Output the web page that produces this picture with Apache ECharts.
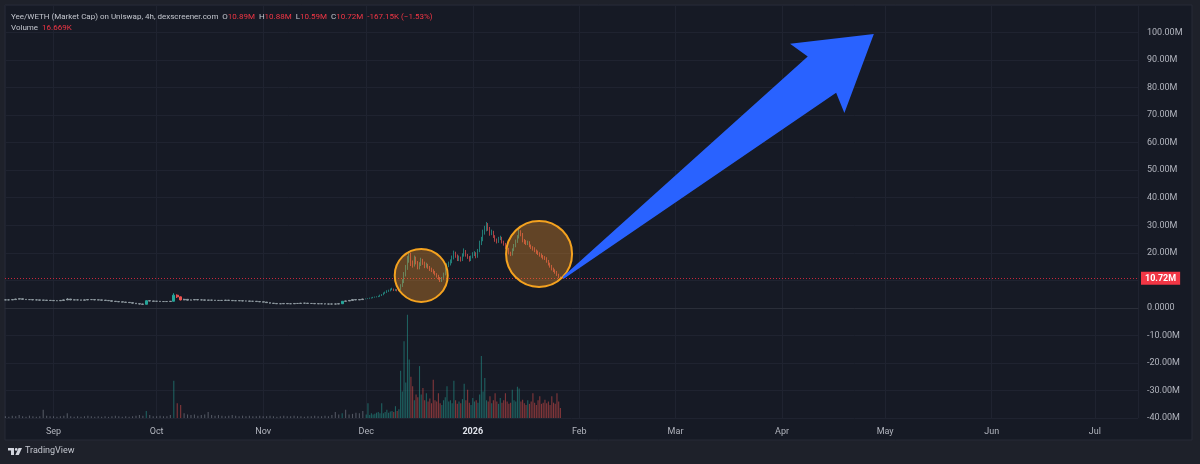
<!DOCTYPE html>
<html><head><meta charset="utf-8">
<script src="https://cdn.jsdelivr.net/npm/echarts@6/dist/echarts.min.js"></script>
<style>html,body{margin:0;padding:0;background:#1e212a;}#c{width:1200px;height:464px;}</style>
</head><body><div id="c"></div>
<script>
// ---------------- DATA ----------------
// Market cap in millions (M). Candle rows: [open, close, low, high]
const flatStart = '2025-08-18T00:00:00';   // daily candles
const flatOHLC = [
[2.9,2.9,2.8,3.0],[2.9,2.9,2.8,3.0],[2.9,3.0,2.9,3.1],[3.0,3.2,3.0,3.3],[3.2,3.3,3.1,3.4],[3.3,3.1,3.0,3.3],[3.1,3.0,2.9,3.1],
[3.0,3.0,2.9,3.1],[3.0,2.9,2.8,3.0],[2.9,2.9,2.8,3.0],[2.9,2.8,2.7,2.9],[2.8,2.8,2.7,2.9],[2.8,2.7,2.6,2.8],[2.7,2.7,2.6,2.8],
[2.7,2.6,2.5,2.7],[2.6,2.6,2.5,2.7],[2.6,2.7,2.6,2.8],[2.7,2.9,2.7,3.0],[2.9,3.2,2.9,3.5],[3.2,2.9,2.8,3.2],[2.9,2.9,2.8,3.0],
[2.9,2.9,2.8,3.0],[2.9,2.8,2.7,2.9],[2.8,2.9,2.8,3.0],[2.9,3.0,2.9,3.1],[3.0,3.0,2.9,3.1],[3.0,2.9,2.8,3.0],[2.9,2.9,2.8,3.0],
[2.9,2.8,2.7,2.9],[2.8,2.7,2.6,2.8],[2.7,2.6,2.5,2.7],[2.6,2.4,2.3,2.6],[2.4,2.3,2.2,2.4],[2.3,2.2,2.1,2.3],[2.2,2.1,2.0,2.2],
[2.1,2.0,1.9,2.1],[2.0,1.9,1.8,2.0],[1.9,1.7,1.6,1.9],[1.7,1.5,1.4,1.7],[1.5,1.4,1.3,1.5],[1.4,1.3,1.2,1.4],[1.3,2.6,1.3,2.7],
[2.6,2.5,2.4,2.6],[2.5,2.4,2.3,2.5],
[2.4,2.4,2.3,2.5],[2.4,2.3,2.2,2.4],[2.3,2.3,2.2,2.4],[2.3,2.3,2.2,2.4],[2.3,2.4,2.3,2.5],[2.4,4.6,2.4,5.3],[4.6,4.0,3.6,4.9],
[4.0,2.9,2.7,4.1],[2.9,3.1,2.8,3.3],[3.1,2.8,2.7,3.1],[2.8,2.9,2.8,3.0],[2.9,3.0,2.9,3.1],[3.0,2.9,2.8,3.0],[2.9,2.9,2.8,3.0],
[2.9,2.8,2.7,2.9],[2.8,2.8,2.7,2.9],[2.8,2.8,2.7,2.9],[2.8,2.7,2.6,2.8],[2.7,2.7,2.6,2.8],[2.7,2.7,2.6,2.8],[2.7,2.8,2.7,2.9],
[2.8,2.7,2.6,2.8],[2.7,2.6,2.5,2.7],[2.6,2.6,2.5,2.7],[2.6,2.6,2.5,2.7],[2.6,2.5,2.4,2.6],[2.5,2.5,2.4,2.6],[2.5,2.4,2.3,2.5],
[2.4,2.4,2.3,2.5],[2.4,2.3,2.2,2.4],[2.3,2.2,2.1,2.3],
[2.2,2.1,2.0,2.2],[2.1,1.9,1.8,2.1],[1.9,1.7,1.6,1.9],[1.7,1.6,1.5,1.7],[1.6,1.5,1.4,1.6],[1.5,1.5,1.4,1.6],[1.5,1.6,1.5,1.7],
[1.6,1.5,1.4,1.6],[1.5,1.5,1.4,1.6],[1.5,1.6,1.5,1.7],[1.6,1.6,1.5,1.7],[1.6,1.7,1.6,1.8],[1.7,1.7,1.6,1.8],[1.7,1.6,1.5,1.7],
[1.6,1.6,1.5,1.7],[1.6,1.5,1.4,1.6],[1.5,1.5,1.4,1.6],[1.5,1.5,1.4,1.6],[1.5,1.4,1.3,1.5],[1.4,1.4,1.3,1.5],[1.4,1.4,1.3,1.5],
[1.4,1.4,1.3,1.5],[1.4,1.5,1.4,1.6],[1.5,2.4,1.5,2.5],[2.4,2.5,2.4,2.6],[2.5,2.7,2.5,2.8],[2.7,3.0,2.7,3.1],[3.0,2.9,2.8,3.0],
[2.9,3.0,2.9,3.1],[3.0,3.2,3.0,3.3]
];
// daily volume, thousands (K)
const flatVolume = [
3,2,4,3,5,3,2,4,3,2,3,14,4,3,
3,2,3,4,8,3,2,3,2,3,4,3,2,3,2,3,2,3,4,3,2,3,2,3,4,5,4,12,5,3,
3,4,3,3,5,63,25,22,8,6,5,6,4,5,6,10,5,4,5,4,3,4,5,4,3,4,3,4,3,3,4,
3,3,4,3,2,3,4,3,3,4,3,3,2,3,3,4,3,3,4,3,5,10,6,8,14,6,7,9,8,12
];
const activeStart = '2025-12-01T00:00:00';  // 12h candles
const activeOHLC = [
[3.2,3.3,3.1,3.4],[3.3,3.4,3.2,3.5],[3.4,3.5,3.3,3.7],[3.5,3.6,3.4,3.8],[3.6,3.8,3.5,4.0],[3.8,3.9,3.7,4.1],
[3.9,4.0,3.8,4.2],[4.0,4.1,3.9,4.4],[4.1,4.5,4.0,4.8],[4.5,4.7,4.3,5.0],[4.7,5.3,4.6,5.6],[5.3,5.6,5.1,5.9],
[5.6,6.0,5.4,6.4],[6.0,6.2,5.8,6.6],[6.2,6.6,6.0,7.0],[6.6,6.8,6.4,7.3],[6.8,6.4,6.1,7.0],[6.4,6.5,6.1,6.9],
[6.5,6.3,6.0,6.8],[6.3,6.6,6.1,7.1],[6.6,8.0,6.5,8.6],[8.0,9.5,7.6,10.4],[9.5,12.0,9.0,13.0],[12.0,14.5,11.4,15.6],
[14.5,17.5,13.8,18.8],[17.5,19.5,16.4,20.6],[19.5,16.0,15.2,20.0],[16.0,15.5,14.6,17.2],[15.5,18.0,15.0,19.0],[18.0,16.5,15.8,18.6],
[16.5,14.5,14.0,17.0],[14.5,15.8,14.0,16.6],[15.8,17.4,15.2,18.2],[17.4,16.2,15.6,17.8],[16.2,15.0,14.4,16.8],[15.0,15.6,14.6,16.4],
[15.6,14.8,14.2,16.0],[14.8,14.0,13.4,15.2],[14.0,13.6,13.0,14.6],[13.6,13.0,12.4,14.0],[13.0,12.2,11.8,13.4],[12.2,11.6,11.0,12.6],
[11.6,10.8,10.2,12.0],[10.8,9.8,9.4,11.2],[9.8,10.6,9.4,11.2],[10.6,12.2,10.2,12.8],[12.2,14.0,11.8,14.8],[14.0,15.4,13.6,16.2],
[15.4,16.0,14.8,16.8],[16.0,16.8,15.4,17.6],[16.8,18.2,16.2,19.0],[18.2,19.8,17.6,20.8],[19.8,19.0,18.2,20.4],[19.0,17.6,17.0,19.4],
[17.6,18.2,17.0,19.0],[18.2,17.4,16.8,18.6],[17.4,19.0,17.0,19.8],[19.0,20.6,18.6,21.6],[20.6,19.2,18.6,21.0],[19.2,18.4,17.8,19.6],
[18.4,17.4,16.8,18.8],[17.4,18.4,17.0,19.0],
[18.4,19.4,18.0,20.2],[19.4,19.8,18.8,20.6],[19.8,18.6,18.0,20.2],[18.6,20.6,18.2,21.4],[20.6,23.4,20.2,24.4],[23.4,24.8,22.8,25.8],
[24.8,27.2,24.2,28.4],[27.2,28.6,26.6,29.8],[28.6,30.2,27.8,31.2],[30.2,28.8,28.0,30.8],[28.8,27.0,26.2,29.4],[27.0,27.6,26.4,28.4],
[27.6,26.0,25.4,28.0],[26.0,24.6,24.0,26.4],[24.6,24.0,23.4,25.2],[24.0,25.0,23.6,25.8],[25.0,25.4,24.6,26.2],[25.4,24.0,23.4,25.8],
[24.0,23.2,22.6,24.4],[23.2,22.0,21.4,23.6],[22.0,21.4,20.8,22.6],[21.4,20.0,19.4,21.8],[20.0,19.4,18.8,20.4],[19.4,21.0,19.0,21.6],
[21.0,22.6,20.6,23.2],[22.6,24.0,22.0,24.8],[24.0,25.6,23.6,26.4],[25.6,27.6,25.2,28.6],[27.6,26.8,26.0,28.2],[26.8,24.4,23.8,27.2],
[24.4,24.0,23.2,25.0],[24.0,23.4,22.8,24.6],[23.4,23.8,22.8,24.4],[23.8,22.6,22.0,24.2],[22.6,22.0,21.4,23.0],[22.0,21.4,20.8,22.4],
[21.4,20.8,20.2,22.0],[20.8,20.2,19.6,21.2],[20.2,19.8,19.2,20.8],[19.8,19.2,18.6,20.2],[19.2,18.8,18.2,19.8],[18.8,18.2,17.6,19.2],
[18.2,18.0,17.4,18.8],[18.0,17.0,16.4,18.4],[17.0,16.0,15.4,17.4],[16.0,15.2,14.6,16.4],[15.2,14.2,13.6,15.6],[14.2,13.6,13.0,14.6],
[13.6,13.0,12.4,14.0],[13.0,12.0,11.6,13.4],[12.0,11.2,10.8,12.4],[11.2,10.72,10.59,11.4]
];
// 12h volume, thousands (K)
const activeVolume = [
6,25,5,8,6,7,9,10,8,25,
8,10,14,9,11,12,10,20,12,15,
80,45,130,60,175,99,70,54,30,40,
35,88,40,51,30,42,28,33,25,65,
30,28,42,25,22,30,35,54,28,30,
25,63,30,24,28,25,32,58,30,48,
26,22,34,28,30,26,40,105,45,68,
30,28,37,25,30,42,28,24,34,26,
30,42,28,24,26,48,30,28,53,50,
28,31,25,22,30,24,28,42,26,22,
30,37,24,26,31,25,28,22,37,26,
24,42,28,17
];
const monthNames = ['Jan','Feb','Mar','Apr','May','Jun','Jul','Aug','Sep','Oct','Nov','Dec'];
const pairTitle = 'Yee/WETH (Market Cap) on Uniswap, 4h, dexscreener.com';
const lastBar = { O: '10.89M', H: '10.88M', L: '10.59M', C: '10.72M', change: '-167.15K (\u22121.53%)', volume: '16.669K' };
const lastPrice = 10.72;
// annotations (data coordinates)
const circleCenters = [['2025-12-17T00:00:00', 11.8], ['2026-01-20T07:00:00', 19.6]];
const arrowFrom = ['2026-01-27T07:00:00', 10.9];
const arrowTo = ['2026-04-27T17:00:00', 99.5];

// ---------------- CHART ----------------
const FONT = 'Roboto, "Liberation Sans", sans-serif';
const DAY = 86400000, HALF = 43200000;
const t0 = new Date(flatStart).getTime();
const t1 = new Date(activeStart).getTime();
const UP = '#26a69a', DN = '#ef5350';
const GREY_UP = '#8f9aa0', GREY_DN = '#a39198';

const flatData = flatOHLC.map((r, i) => {
  const item = { value: [t0 + i * DAY, r[0], r[1], r[2], r[3]] };
  if (Math.abs(r[1] - r[0]) < 0.5) item.itemStyle = { color: GREY_UP, color0: GREY_DN, borderColor: GREY_UP, borderColor0: GREY_DN };
  return item;
});
const activeData = activeOHLC.map((r, i) => [t1 + i * HALF, r[0], r[1], r[2], r[3]]);
const volData = flatVolume.map((v, i) => [t0 + i * DAY, v]).concat(activeVolume.map((v, i) => [t1 + i * HALF, v]));
const volStyle = flatOHLC.map(r => Math.abs(r[1] - r[0]) < 0.5 ? 0 : (r[1] >= r[0] ? 1 : -1))
  .concat(activeOHLC.map(r => r[1] >= r[0] ? 1 : -1));

const rich = { r: { color: '#f23645', fontSize: 8, fontFamily: FONT, lineHeight: 11.5 } };
const headerText = pairTitle + '  O{r|' + lastBar.O + '}  H{r|' + lastBar.H + '}  L{r|' + lastBar.L + '}  C{r|' + lastBar.C + '}  {r|' + lastBar.change + '}\nVolume  {r|' + lastBar.volume + '}';

const chart = echarts.init(document.getElementById('c'), null, { renderer: 'canvas' });
const option = {
  backgroundColor: '#1e212a',
  animation: false,
  title: {
    left: 11, top: 11, padding: 0,
    text: headerText,
    textStyle: { color: '#c3c6ce', fontSize: 8, fontWeight: 'normal', fontFamily: FONT, lineHeight: 11.5, rich: rich }
  },
  grid: { left: 5, right: 62, top: 5, bottom: 46 },
  xAxis: {
    type: 'time',
    min: new Date('2025-08-18T01:00:00').getTime(),
    max: new Date('2026-07-13T10:00:00').getTime(),
    splitNumber: 12,
    minInterval: 28 * DAY, maxInterval: 31 * DAY,
    offset: 3,
    axisLine: { show: true, lineStyle: { color: '#2a2e39' } },
    axisTick: { show: false },
    splitLine: { show: true, lineStyle: { color: '#1f2330', width: 1 } },
    axisLabel: {
      margin: 6, color: '#b2b5be', fontSize: 9, fontFamily: FONT, hideOverlap: false,
      formatter: v => { const d = new Date(v); return d.getMonth() === 0 ? '{y|' + d.getFullYear() + '}' : monthNames[d.getMonth()]; },
      rich: { y: { color: '#e0e3eb', fontWeight: 'bold', fontSize: 9, fontFamily: FONT } }
    }
  },
  yAxis: [{
    type: 'value', position: 'right', min: -40, max: 110, interval: 10,
    axisLine: { show: false }, axisTick: { show: false },
    splitLine: { show: true, lineStyle: { color: '#1f2330' } },
    axisLabel: {
      margin: 9, color: '#b2b5be', fontSize: 9, fontFamily: FONT,
      formatter: v => (v === 110 || v === 10) ? '' : (v === 0 ? '0.0000' : v.toFixed(2) + 'M')
    }
  }, {
    type: 'value', min: 0, max: 700, show: false, splitLine: { show: false }
  }],
  series: [{
    type: 'bar', name: 'Volume', xAxisIndex: 0, yAxisIndex: 1, data: volData, barWidth: 1.1, z: 1,
    itemStyle: { color: p => volStyle[p.dataIndex] === 1 ? 'rgba(38,166,154,0.5)' : (volStyle[p.dataIndex] === -1 ? 'rgba(239,83,80,0.5)' : 'rgba(140,146,158,0.5)') }
  }, {
    type: 'candlestick', name: 'flat', data: flatData, barWidth: 2.4, z: 3,
    itemStyle: { color: UP, color0: DN, borderColor: UP, borderColor0: DN, borderWidth: 1 }
  }, {
    type: 'candlestick', name: 'price', data: activeData, barWidth: 1.2, z: 3,
    itemStyle: { color: UP, color0: DN, borderColor: UP, borderColor0: DN, borderWidth: 0.7 },
    markLine: {
      silent: true, symbol: 'none', animation: false,
      data: [{ yAxis: lastPrice }],
      lineStyle: { color: '#c8283c', type: [1, 2], width: 1, opacity: 1 },
      label: { position: 'end', distance: 3, formatter: lastBar.C, color: '#ffffff', backgroundColor: '#f23645',
               padding: [2, 4, 2, 4], fontSize: 9, fontFamily: FONT, fontWeight: 'bold' }
    }
  }]
};
chart.setOption(option);

// --- annotations placed through the axis scales ---
const toPx = p => chart.convertToPixel({ gridIndex: 0 }, [new Date(p[0]).getTime(), p[1]]);
const circleRadii = [26.5, 33];
const circles = circleCenters.map((c, i) => {
  const p = toPx(c);
  return { type: 'circle', z: 100, silent: true, shape: { cx: p[0], cy: p[1], r: circleRadii[i] },
           style: { fill: 'rgba(245,150,40,0.34)', stroke: '#f4a21f', lineWidth: 2 } };
});
const A = toPx(arrowFrom), B = toPx(arrowTo);
const dx = B[0] - A[0], dy = B[1] - A[1], L = Math.hypot(dx, dy), ux = dx / L, uy = dy / L, nx = -uy, ny = ux;
const pt = (a, q) => [A[0] + ux * a + nx * q, A[1] + uy * a + ny * q];
const head = 72, barb = 44, shaft = 23, notch = 6;
const arrow = { type: 'polygon', z: 101, silent: true,
  shape: { points: [pt(0, -1), pt(L - head + notch, -shaft), pt(L - head, -barb), pt(L, 0), pt(L - head, barb), pt(L - head + notch, shaft), pt(0, 1)] },
  style: { fill: '#2962ff' } };

chart.setOption({
  graphic: [
    { type: 'rect', z: -100, silent: true, shape: { x: 5, y: 5, width: 1187, height: 435 }, style: { fill: '#161a25', stroke: '#272b37', lineWidth: 1 } },
    circles[0], circles[1], arrow,
    { type: 'group', left: 8, top: 448, children: [
      { type: 'rect', shape: { x: 0, y: 0, width: 6, height: 2.5 }, style: { fill: '#d1d4dc' } },
      { type: 'rect', shape: { x: 3, y: 0, width: 3, height: 7 }, style: { fill: '#d1d4dc' } },
      { type: 'circle', shape: { cx: 8.2, cy: 1.4, r: 1.4 }, style: { fill: '#d1d4dc' } },
      { type: 'polygon', shape: { points: [[10.5, 0], [14, 0], [10.8, 7], [7.4, 7]] }, style: { fill: '#d1d4dc' } }
    ] },
    { type: 'text', left: 25, top: 446, style: { text: 'TradingView', fill: '#c3c6ce', font: '9px ' + FONT } }
  ]
});
</script>
</body></html>
